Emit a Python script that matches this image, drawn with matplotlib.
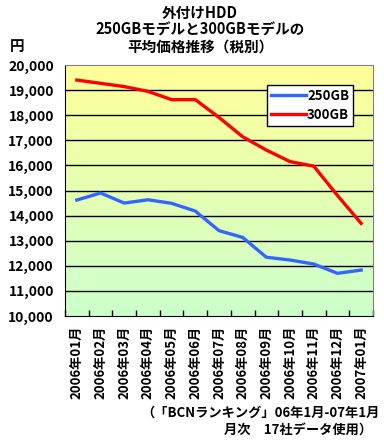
import numpy as np
import matplotlib

matplotlib.use('Agg')
import matplotlib.pyplot as plt
from matplotlib.colors import LinearSegmentedColormap

plt.rcParams['font.family'] = ['Noto Sans CJK JP', 'DejaVu Sans']
plt.rcParams['font.weight'] = 'bold'

# データ
months = ['2006年01月', '2006年02月', '2006年03月', '2006年04月', '2006年05月',
          '2006年06月', '2006年07月', '2006年08月', '2006年09月', '2006年10月',
          '2006年11月', '2006年12月', '2007年01月']
price_250 = [14620, 14900, 14500, 14630, 14490, 14180, 13400, 13130,
             12340, 12230, 12070, 11700, 11830]
price_300 = [19400, 19270, 19140, 18950, 18620, 18620, 17910, 17140,
             16610, 16150, 15970, 14800, 13690]
y_ticks = list(range(10000, 20001, 1000))

fig = plt.figure(figsize=(3.84, 4.42), dpi=100)
ax = fig.add_axes([65 / 384, 1 - 316 / 442, 308 / 384, 251 / 442])

x = np.arange(len(months))
ax.set_xlim(-0.5, len(months) - 0.5)
ax.set_ylim(10000, 20000)

# 背景グラデーション(黄→緑)
cmap = LinearSegmentedColormap.from_list('bg', ['#ccffcc', '#ffff99'])
grad = np.linspace(0, 1, 256).reshape(-1, 1)
ax.imshow(grad, aspect='auto', cmap=cmap, origin='lower',
          extent=[-0.5, len(months) - 0.5, 10000, 20000], zorder=0)

for yv in y_ticks[1:-1]:
    ax.axhline(yv, color='black', lw=1.0, zorder=1)

ax.plot(x, price_250, color='#3366ff', lw=2.4, label='250GB', zorder=3)
ax.plot(x, price_300, color='#ff0000', lw=2.4, label='300GB', zorder=3)

ax.set_yticks(y_ticks)
ax.set_yticklabels([f'{v:,}' for v in y_ticks], fontsize=10, fontweight='bold')
ax.tick_params(axis='y', length=0, pad=8)

ax.set_xticks(x)
ax.set_xticklabels(months, rotation=90, fontsize=9.5, fontweight='bold')
ax.tick_params(axis='x', which='major', length=0, pad=7)
ax.set_xticks(np.arange(-0.5, len(months)), minor=True)
ax.tick_params(axis='x', which='minor', direction='in', length=4, width=1, color='black')

for s in ['top', 'right']:
    ax.spines[s].set_color('#808080')
for s in ['left', 'bottom']:
    ax.spines[s].set_color('black')

leg = ax.legend(loc='upper right', bbox_to_anchor=(0.935, 0.92), fontsize=9.5,
                frameon=True, fancybox=False, edgecolor='black', framealpha=1,
                handlelength=2.6, handletextpad=0.1, borderpad=0.3,
                labelspacing=0.35, borderaxespad=0)
leg.get_frame().set_linewidth(1.0)
for t in leg.get_texts():
    t.set_fontweight('bold')

fig.text(200 / 384, 1 - 13 / 442, '外付けHDD', ha='center', va='center', fontsize=10.5, fontweight='bold')
fig.text(200 / 384, 1 - 30 / 442, '250GBモデルと300GBモデルの', ha='center', va='center', fontsize=10.5, fontweight='bold')
fig.text(200 / 384, 1 - 47 / 442, '平均価格推移（税別）', ha='center', va='center', fontsize=10.5, fontweight='bold')
fig.text(10 / 384, 1 - 46 / 442, '円', ha='left', va='center', fontsize=10.5, fontweight='bold')

fig.text(380 / 384, 1 - 413 / 442, '（「BCNランキング」06年1月-07年1月', ha='right', va='center',
         fontsize=9.5, fontweight='bold')
fig.text(372 / 384, 1 - 430 / 442, '月次　17社データ使用）', ha='right', va='center',
         fontsize=9.5, fontweight='bold')

fig.savefig('out.png', dpi=100)
